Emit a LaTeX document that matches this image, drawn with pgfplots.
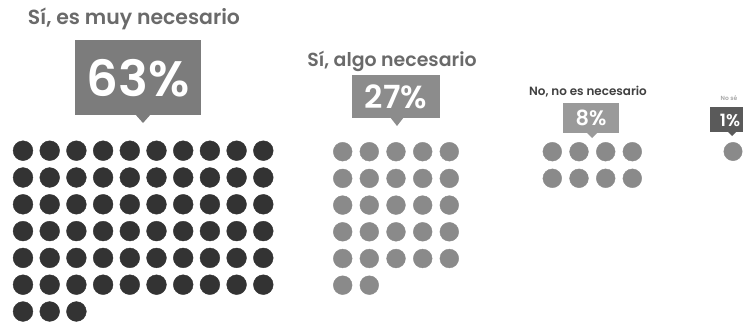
\documentclass[border=0pt]{standalone}
\usepackage{pgfplots}
\pgfplotsset{compat=1.18}
\usepackage{fontspec}
\setmainfont{Poppins}
\newfontfamily\popsb{Poppins SemiBold}
\definecolor{darkdot}{HTML}{333333}
\definecolor{greydot}{HTML}{8A8A8A}
\definecolor{boxa}{HTML}{7C7C7C}
\definecolor{boxb}{HTML}{8C8C8C}
\definecolor{boxc}{HTML}{9A9A9A}
\definecolor{boxd}{HTML}{5A5A5A}
\definecolor{labtxt}{HTML}{6A6A6A}

% dot positions in picture pixels (x right, y down)
\pgfplotstableread{
x y
23 150.7
49.7 150.7
76.4 150.7
103.1 150.7
129.8 150.7
156.5 150.7
183.2 150.7
209.9 150.7
236.6 150.7
263.3 150.7
23 177.5
49.7 177.5
76.4 177.5
103.1 177.5
129.8 177.5
156.5 177.5
183.2 177.5
209.9 177.5
236.6 177.5
263.3 177.5
23 204.3
49.7 204.3
76.4 204.3
103.1 204.3
129.8 204.3
156.5 204.3
183.2 204.3
209.9 204.3
236.6 204.3
263.3 204.3
23 231.1
49.7 231.1
76.4 231.1
103.1 231.1
129.8 231.1
156.5 231.1
183.2 231.1
209.9 231.1
236.6 231.1
263.3 231.1
23 257.9
49.7 257.9
76.4 257.9
103.1 257.9
129.8 257.9
156.5 257.9
183.2 257.9
209.9 257.9
236.6 257.9
263.3 257.9
23 284.7
49.7 284.7
76.4 284.7
103.1 284.7
129.8 284.7
156.5 284.7
183.2 284.7
209.9 284.7
236.6 284.7
263.3 284.7
23 311.5
49.7 311.5
76.4 311.5
}\muy

\pgfplotstableread{
x y
342.7 151.7
369.3 151.7
396.0 151.7
422.7 151.7
449.3 151.7
342.7 178.4
369.3 178.4
396.0 178.4
422.7 178.4
449.3 178.4
342.7 205.1
369.3 205.1
396.0 205.1
422.7 205.1
449.3 205.1
342.7 231.8
369.3 231.8
396.0 231.8
422.7 231.8
449.3 231.8
342.7 258.5
369.3 258.5
396.0 258.5
422.7 258.5
449.3 258.5
342.7 285.2
369.3 285.2
}\algo

\pgfplotstableread{
x y
552.3 151.7
579.0 151.7
605.7 151.7
632.3 151.7
552.3 178.3
579.0 178.3
605.7 178.3
632.3 178.3
}\nono

\pgfplotstableread{
x y
733 151.5
}\nose

\begin{document}
\begin{tikzpicture}
\begin{axis}[
    width=748bp, height=323bp,
    scale only axis,
    hide axis,
    clip=false,
    xmin=0, xmax=748,
    ymin=0, ymax=323,
    y dir=reverse,
]
\path (axis cs:0,0) rectangle (axis cs:748,323);

\addplot[only marks, mark=*, mark size=9.9bp, color=darkdot] table {\muy};
\addplot[only marks, mark=*, mark size=9.4bp, color=greydot] table {\algo};
\addplot[only marks, mark=*, mark size=9.4bp, color=greydot] table {\nono};
\addplot[only marks, mark=*, mark size=9.2bp, color=greydot] table {\nose};

% callout boxes
\fill[boxa] (axis cs:75,40) rectangle (axis cs:201,115);
\fill[boxa] (axis cs:135,114) -- (axis cs:151,114) -- (axis cs:143,123) -- cycle;
\fill[boxb] (axis cs:352,75) rectangle (axis cs:440,118);
\fill[boxb] (axis cs:390,117) -- (axis cs:404,117) -- (axis cs:397,126) -- cycle;
\fill[boxc] (axis cs:563,103) rectangle (axis cs:619,133);
\fill[boxc] (axis cs:586,132) -- (axis cs:598,132) -- (axis cs:592,138) -- cycle;
\fill[boxd] (axis cs:710,107) rectangle (axis cs:743,132);
\fill[boxd] (axis cs:727,131) -- (axis cs:737,131) -- (axis cs:732,136) -- cycle;

% percentages
\node[white, font=\popsb\fontsize{50}{50}\selectfont] at (axis cs:138,78) {63\%};
\node[white, font=\popsb\fontsize{32}{32}\selectfont] at (axis cs:396,97) {27\%};
\node[white, font=\popsb\fontsize{21}{21}\selectfont] at (axis cs:591,118) {8\%};
\node[white, font=\popsb\fontsize{17}{17}\selectfont] at (axis cs:730,120) {1\%};

% category labels
\node[labtxt, font=\popsb\fontsize{20.5}{20.5}\selectfont] at (axis cs:134,19) {Sí, es muy necesario};
\node[labtxt, font=\popsb\fontsize{19}{19}\selectfont] at (axis cs:392,61) {Sí, algo necesario};
\node[black!75, font=\popsb\fontsize{12}{12}\selectfont] at (axis cs:588,92) {No, no es necesario};
\node[black!35, font=\popsb\fontsize{6}{6}\selectfont] at (axis cs:729,98) {No sé};
\end{axis}
\end{tikzpicture}
\end{document}
